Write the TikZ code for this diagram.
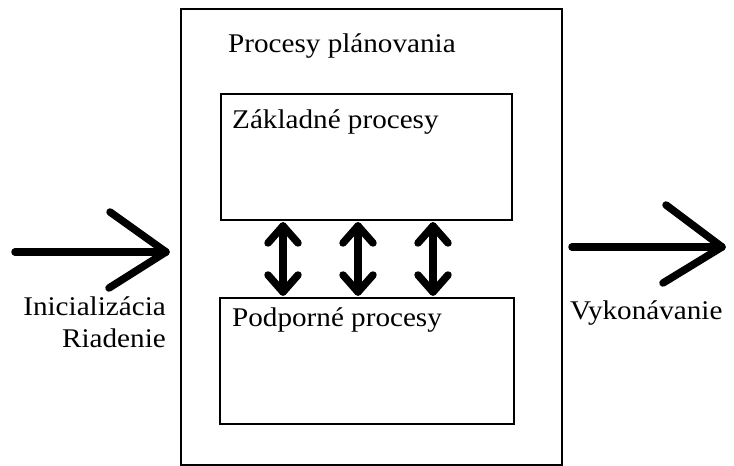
\documentclass[tikz,border=0pt]{standalone}
\usepackage{fontspec}
\setmainfont[FakeStretch=1.08]{Liberation Serif}
\begin{document}
\begin{tikzpicture}[x=1pt,y=1pt,
  box/.style={draw=black,line width=2pt},
  lbl/.style={inner sep=0pt,font=\fontsize{27}{32}\selectfont},
  thick arrow/.style={line width=7.5pt,line cap=round,line join=round}]
\useasboundingbox[fill=white] (0,0) rectangle (734,466);
% boxes
\draw[box] (181,457) rectangle (562,1);
\draw[box] (221,372) rectangle (512,246);
\draw[box] (220,168) rectangle (514,42);
% labels
\node[lbl,anchor=base west] (tplan) at (228,413) {Procesy plánovania};
\node[lbl,anchor=base west] (tzakl) at (232,337) {Základné procesy};
\node[lbl,anchor=base west] (tpodp) at (232,139) {Podporné procesy};
\node[lbl,anchor=base east] (tinit) at (166,150) {Inicializácia};
\node[lbl,anchor=base east] (tried) at (166,118) {Riadenie};
\node[lbl,anchor=base west] (tvyk) at (570,146) {Vykonávanie};
% left arrow
\coordinate (la) at (15,214);
\coordinate (lb) at (166,214);
\draw[thick arrow] (la) -- (lb);
\draw[thick arrow] ([shift={(-56,40)}]lb) -- (lb) -- ([shift={(-57,-36)}]lb);
% right arrow
\coordinate (ra) at (572,219);
\coordinate (rb) at (722,219);
\draw[thick arrow] (ra) -- (rb);
\draw[thick arrow] ([shift={(-56,42)}]rb) -- (rb) -- ([shift={(-59,-36)}]rb);
% double arrows
\foreach \i/\x in {1/283,2/358,3/433}{
  \coordinate (u\i) at (\x,240);
  \coordinate (d\i) at (\x,174);
  \draw[thick arrow] (u\i) -- (d\i);
  \draw[thick arrow] ([shift={(-15,-17)}]u\i) -- (u\i) -- ([shift={(15,-17)}]u\i);
  \draw[thick arrow] ([shift={(-15,17)}]d\i) -- (d\i) -- ([shift={(15,17)}]d\i);
}
\end{tikzpicture}
\end{document}
